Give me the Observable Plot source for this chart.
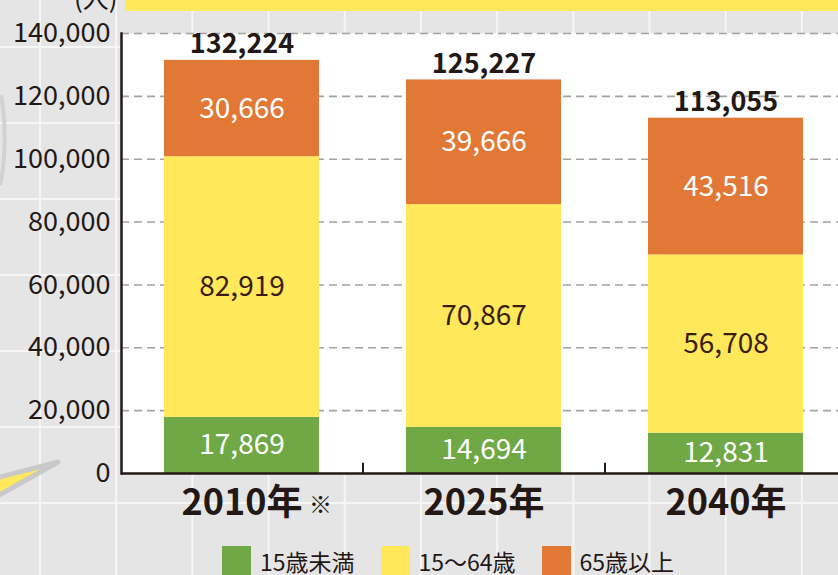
<!DOCTYPE html>
<html><head><meta charset="utf-8">
<script src="https://cdn.jsdelivr.net/npm/d3@7"></script>
<script src="https://cdn.jsdelivr.net/npm/@observablehq/plot@0.6"></script>
<style>
html,body{margin:0;padding:0;}
body{width:838px;height:575px;overflow:hidden;font-family:"Noto Sans CJK JP","Noto Sans",sans-serif;color:#231815;}
#wrap{position:relative;width:838px;height:575px;background-color:#e5e5e5;
background-image:linear-gradient(to right,#f6f6f6 2px,transparent 2px),linear-gradient(to bottom,#f6f6f6 2px,transparent 2px);
background-size:76.2px 76px;background-position:39px 46px;overflow:hidden;}
#band{position:absolute;left:125px;top:0;width:713px;height:11px;background:#ffe95b;}
#unit{position:absolute;left:74px;top:-16px;font-size:26px;line-height:26px;}
#deco{position:absolute;left:0;top:0;}
#chart{position:absolute;left:0;top:0;}
#legend{position:absolute;left:222px;top:546px;display:flex;align-items:center;font-size:23px;line-height:23px;}
.item{display:flex;align-items:center;margin-right:26px;}
.sw{width:29px;height:29px;margin-right:9px;}
.item span{position:relative;top:1px;}
</style></head>
<body><div id="wrap">
<svg id="deco" width="838" height="575">
<path d="M-4,478 L58,462 L-4,497 Z" fill="#ffe95b" stroke="#c9c9c9" stroke-width="5" stroke-linejoin="round"/>
<path d="M1,95 C6,120 6,160 0,185" fill="none" stroke="#d2d2d2" stroke-width="4"/>
<path d="M838,402 C830,405 828,414 838,420" fill="#cfcfcf"/>
</svg>
<div id="band"></div>
<div id="unit">(人)</div>
<div id="chart"></div>
<div id="legend"></div>
</div>
<script>
const years = ["2010年", "2025年", "2040年"];
const notes = ["※", "", ""];
const groups = ["15歳未満", "15〜64歳", "65歳以上"];
const under15 = [17869, 14694, 12831];
const age15to64 = [82919, 70867, 56708];
const over65 = [30666, 39666, 43516];
const totals = [132224, 125227, 113055];
const yTicks = [0, 20000, 40000, 60000, 80000, 100000, 120000, 140000];
const colors = ["#6fa845", "#ffe95b", "#e17835"];

const fmt = d3.format(",");
const series = [under15, age15to64, over65];
const data = [];
groups.forEach((g, i) => years.forEach((y, j) => data.push({year: y, group: g, gi: i, value: series[i][j]})));
const tops = years.map((y, j) => ({year: y, top: d3.sum(series, s => s[j]), total: totals[j], note: notes[j]}));
const ink = "#231815";

const chart = Plot.plot({
  width: 838, height: 535,
  marginTop: 33, marginLeft: 121, marginRight: 0, marginBottom: 62,
  style: {background: "transparent", fontFamily: '"Noto Sans CJK JP","Noto Sans",sans-serif', color: ink},
  x: {domain: years, range: [120.5, 846.5], paddingInner: 0.36, paddingOuter: 0.18, axis: null},
  y: {domain: [0, 140000], axis: null},
  color: {domain: groups, range: colors},
  marks: [
    Plot.frame({fill: "white", stroke: null}),
    Plot.gridY(yTicks.filter(d => d > 0), {stroke: "#a3a3a3", strokeOpacity: 1, strokeWidth: 1.6, strokeDasharray: "8,5"}),
    Plot.barY(data, {x: "year", y: "value", fill: "group", z: "group"}),
    Plot.text(data, Plot.stackY({x: "year", y: "value", z: "group", text: d => d.gi === 1 ? "" : fmt(d.value), fill: "white", fontSize: 28})),
    Plot.text(data, Plot.stackY({x: "year", y: "value", z: "group", text: d => d.gi === 1 ? fmt(d.value) : "", fill: "#3a1d0e", fontSize: 28})),
    Plot.text(tops, {x: "year", y: "top", text: d => fmt(d.total), dy: -16, fontSize: 27, fontWeight: "bold", fill: ink}),
    Plot.ruleY([0], {stroke: ink, strokeWidth: 2.5}),
    Plot.frame({anchor: "left", stroke: ink, strokeWidth: 2.5}),
    Plot.ruleX(years.slice(0, 2), {x: d => d, dx: 121, y1: 0, y2: 3300, stroke: ink, strokeWidth: 2}),
    Plot.axisY(yTicks, {tickSize: 0, tickPadding: 11, fontSize: 27, tickFormat: d => fmt(d), label: null, fill: ink}),
    Plot.text(tops, {x: "year", y: 0, text: "year", dy: 30, fontSize: 36, fontWeight: "bold", fill: ink}),
    Plot.text(tops, {x: "year", y: 0, text: "note", dy: 32, dx: 67, textAnchor: "start", fontSize: 23, fill: ink})
  ]
});
document.getElementById("chart").appendChild(chart);

const legend = document.getElementById("legend");
groups.forEach((g, i) => {
  const it = document.createElement("div"); it.className = "item";
  const sw = document.createElement("div"); sw.className = "sw"; sw.style.background = colors[i];
  const tx = document.createElement("span"); tx.textContent = g;
  it.appendChild(sw); it.appendChild(tx); legend.appendChild(it);
});
</script>
</body></html>
